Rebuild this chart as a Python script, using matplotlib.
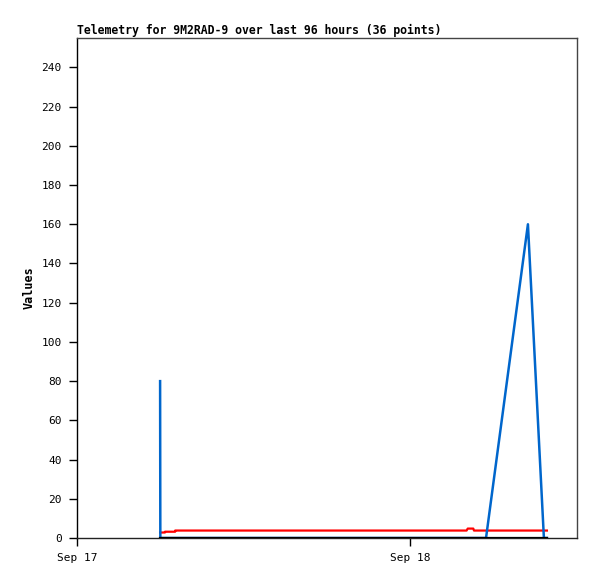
import matplotlib
matplotlib.use("Agg")
import matplotlib.pyplot as plt
import matplotlib.dates as mdates
import pandas as pd

# telemetry samples (time, value)
blue_times = ["2024-09-17 05:59", "2024-09-17 06:00", "2024-09-18 05:27",
              "2024-09-18 08:28", "2024-09-18 09:37", "2024-09-18 09:50"]
blue_vals = [80, 0, 0, 160, 0, 0]

red_times = ["2024-09-17 05:59", "2024-09-17 06:20", "2024-09-17 06:20",
             "2024-09-17 07:04", "2024-09-17 07:04", "2024-09-18 04:03",
             "2024-09-18 04:08", "2024-09-18 04:32", "2024-09-18 04:35",
             "2024-09-18 09:50"]
red_vals = [2.8, 2.8, 3.2, 3.2, 3.8, 3.8, 4.8, 4.8, 3.8, 3.8]

black_times = ["2024-09-17 05:59", "2024-09-18 09:50"]
black_vals = [0, 0]

x_start = "2024-09-17 00:00"
x_end = "2024-09-18 12:00"
y_ticks = list(range(0, 260, 20))

title = "Telemetry for 9M2RAD-9 over last 96 hours (36 points)"

fig = plt.figure(figsize=(5.97, 5.79), dpi=100)
ax = fig.add_axes([77 / 597, 41 / 579, 500 / 597, 500 / 579])

mono = "DejaVu Sans Mono"

ax.plot(pd.to_datetime(red_times), red_vals, color="#ff0000", lw=1.6, zorder=3)
ax.plot(pd.to_datetime(blue_times), blue_vals, color="#0066cc", lw=1.8, zorder=4)
ax.plot(pd.to_datetime(black_times), black_vals, color="#000000", lw=1.6, zorder=5)

ax.set_xlim(pd.Timestamp(x_start), pd.Timestamp(x_end))
ax.set_ylim(0, 255)
ax.set_yticks(y_ticks)
ax.xaxis.set_major_locator(mdates.DayLocator())
ax.xaxis.set_major_formatter(mdates.DateFormatter("%b %d"))

for s in ["top", "right"]:
    ax.spines[s].set_color("#444444")
ax.spines["left"].set_color("#000000")
ax.spines["bottom"].set_color("#222222")
for s in ax.spines.values():
    s.set_linewidth(1.0)

ax.tick_params(direction="out", length=6, width=1, colors="#000000", pad=5,
               labelsize=8)
for lbl in ax.get_xticklabels() + ax.get_yticklabels():
    lbl.set_family(mono)

ax.set_ylabel("Values", family=mono, fontsize=8.5, fontweight="bold", labelpad=4)
ax.set_title(title, loc="left", family=mono, fontsize=8.3, fontweight="bold", pad=3)

fig.savefig("out.png", dpi=100)
